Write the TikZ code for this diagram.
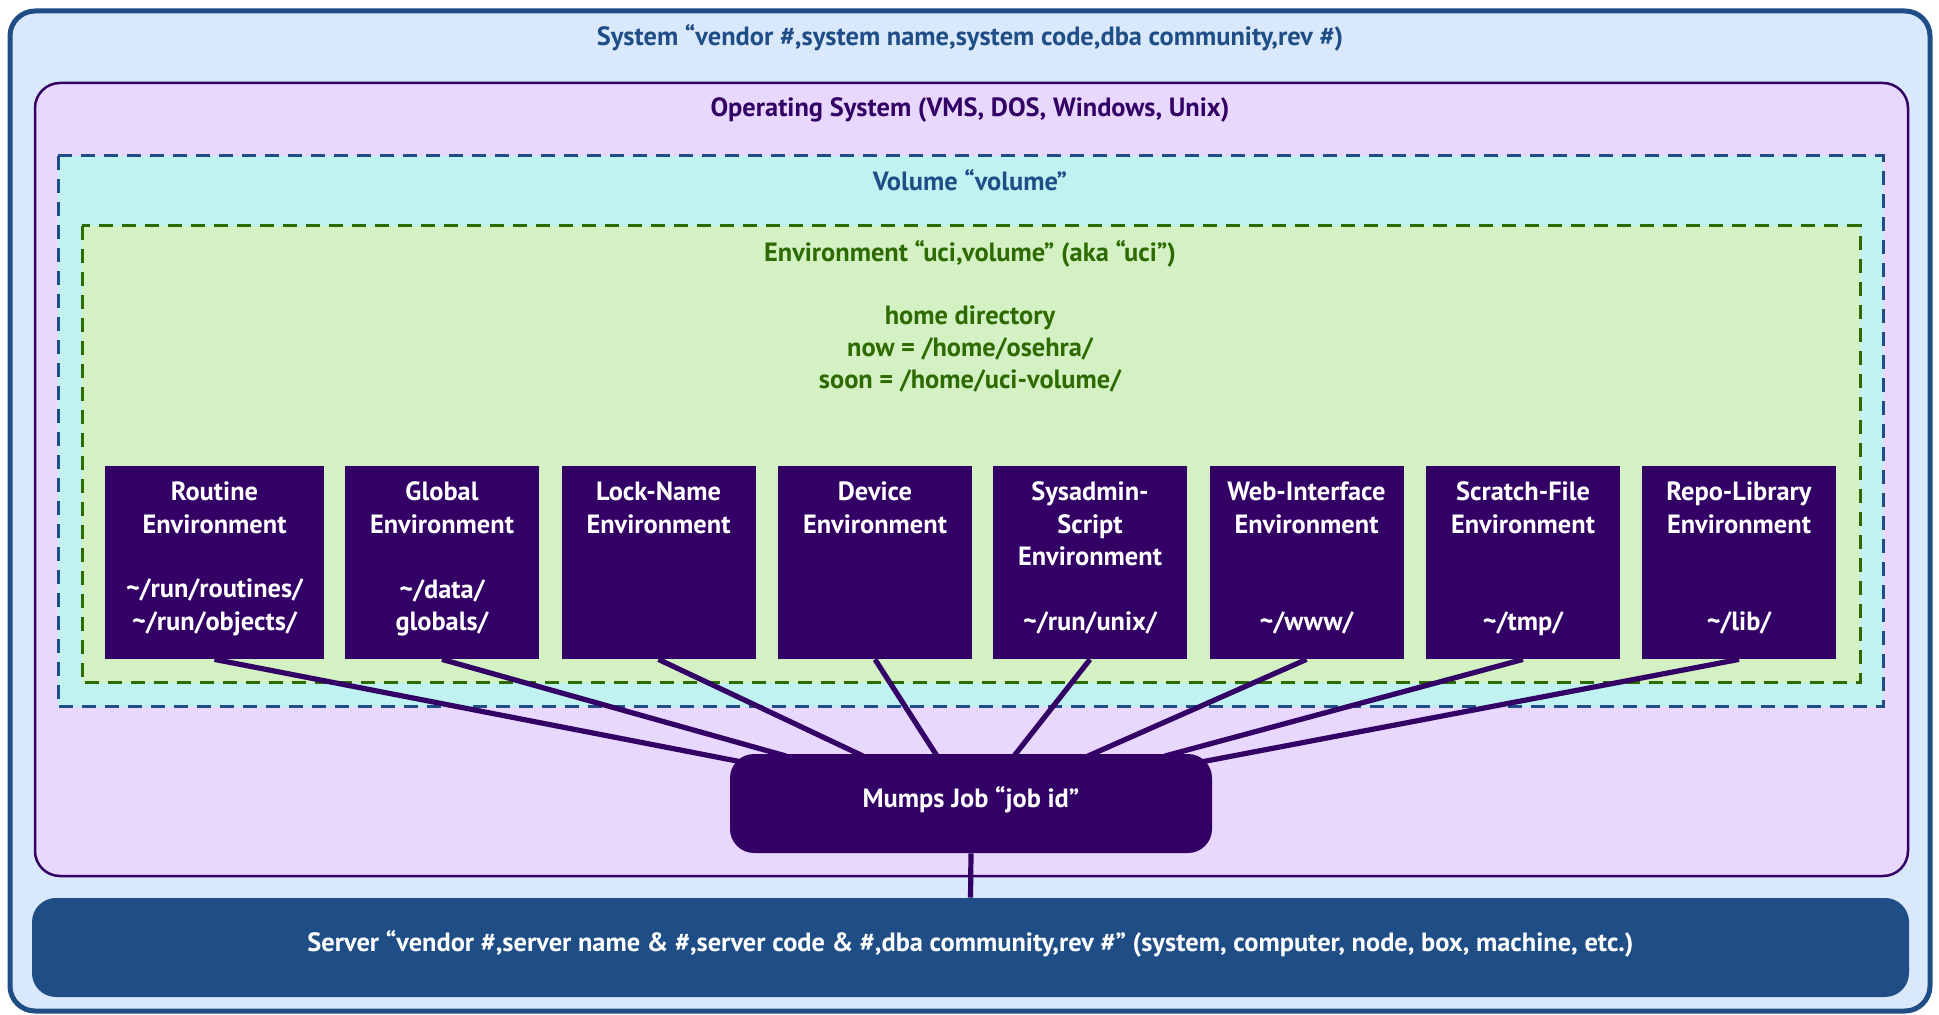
\documentclass[tikz,border=0pt]{standalone}
\usepackage{fontspec}
\setmainfont{PT Sans}
\definecolor{sysfill}{HTML}{DAE8FB}
\definecolor{sysblue}{HTML}{1F4E87}
\definecolor{osfill}{HTML}{E9D8FD}
\definecolor{ospurple}{HTML}{330066}
\definecolor{volfill}{HTML}{C0F2F2}
\definecolor{envfill}{HTML}{D4F1C4}
\definecolor{envgreen}{HTML}{2D6A00}
\newcommand{\envtxt}[1]{\parbox[c][96.5pt][t]{95pt}{\centering\vspace*{8pt}#1}}
\newcommand{\tld}{\textasciitilde}
\newcommand{\upbit}[1]{\raisebox{0pt}[\height][\dimexpr\depth+4pt\relax]{#1}}
\tikzset{
  x=0.5pt, y=-0.5pt,
  txt/.style={font=\fontsize{13.2pt}{16.2pt}\selectfont\bfseries, inner sep=0pt},
  sysbox/.style={draw=sysblue, fill=sysfill, line width=2.5pt, rounded corners=12.5pt},
  osbox/.style={draw=ospurple, fill=osfill, line width=1.25pt, rounded corners=12.5pt},
  volbox/.style={draw=sysblue, fill=volfill, line width=1.5pt, dash pattern=on 7pt off 4.5pt},
  envcont/.style={draw=envgreen, fill=envfill, line width=1.5pt, dash pattern=on 7pt off 4.5pt},
  envbox/.style={txt, fill=ospurple, text=white, inner sep=0pt, minimum width=97pt, minimum height=96.5pt},
  link/.style={draw=ospurple, line width=2.6pt},
  jobbox/.style={txt, fill=ospurple, text=white, rounded corners=12pt, minimum width=241pt, minimum height=49.5pt},
  serverbox/.style={txt, fill=sysblue, text=white, rounded corners=12pt, minimum width=938.5pt, minimum height=49.5pt},
}
\begin{document}
\begin{tikzpicture}
\useasboundingbox (0,0) rectangle (1939,1015);
% containers
\draw[sysbox] (10,11) rectangle (1930,1011);
\node[txt, text=sysblue] (systitle) at (970,37.5) {System “vendor \#,system name,system code,dba community,rev \#)};
\draw[osbox] (35,83) rectangle (1908,876);
\node[txt, text=ospurple] (ostitle) at (970,109.5) {Operating System (VMS, DOS, Windows, Unix)};
\draw[volbox] (58,156) rectangle (1883,707);
\node[txt, text=sysblue] (voltitle) at (970,180) {Volume “volume”};
\draw[envcont] (82,226) rectangle (1860,683);
\node[txt, text=envgreen] (envtitle) at (970,253.5) {Environment “uci,volume” (aka “uci”)};
\node[txt, text=envgreen, align=center] (home) at (970,349) {home directory\\now = /home/osehra/\\soon = /home/uci-volume/};
% environment boxes
\node[envbox, minimum width=109.5pt] (routine) at (214.5,562.5) {\envtxt{Routine\\Environment\\\mbox{}\\\tld/run/routines/\\\tld/run/objects/}};
\node[envbox] (global) at (442,562.5) {\envtxt{Global\\Environment\\\mbox{}\\\tld/data/\\globals/}};
\node[envbox] (lock) at (658.5,562.5) {\envtxt{Lock-Name\\Environment\\\mbox{}\\\mbox{}\\\mbox{}}};
\node[envbox] (device) at (875,562.5) {\envtxt{Device\\Environment\\\mbox{}\\\mbox{}\\\mbox{}}};
\node[envbox] (sysadmin) at (1090,562.5) {\envtxt{Sysadmin-\\Script\\Environment\\\mbox{}\\\tld/run/unix/}};
\node[envbox] (web) at (1306.5,562.5) {\envtxt{Web-Interface\\Environment\\\mbox{}\\\mbox{}\\\tld/www/}};
\node[envbox] (scratch) at (1523,562.5) {\envtxt{Scratch-File\\Environment\\\mbox{}\\\mbox{}\\\tld/tmp/}};
\node[envbox] (repo) at (1739,562.5) {\envtxt{Repo-Library\\Environment\\\mbox{}\\\mbox{}\\\tld/lib/}};
% connector ends on the job box
\coordinate (j1) at (742,762);
\coordinate (j2) at (786,756);
\coordinate (j3) at (863,756);
\coordinate (j4) at (937,756);
\coordinate (j5) at (1014,756);
\coordinate (j6) at (1088,756);
\coordinate (j7) at (1165,756);
\coordinate (j8) at (1201,762);
\draw[link] (routine.south) -- (j1);
\draw[link] (global.south) -- (j2);
\draw[link] (lock.south) -- (j3);
\draw[link] (device.south) -- (j4);
\draw[link] (sysadmin.south) -- (j5);
\draw[link] (web.south) -- (j6);
\draw[link] (scratch.south) -- (j7);
\draw[link] (repo.south) -- (j8);
% job and server
\node[jobbox] (job) at (971,803.5) {\upbit{Mumps Job “job id”}};
\node[serverbox] (server) at (970.5,947.5) {\upbit{Server “vendor \#,server name \& \#,server code \& \#,dba community,rev \#” (system, computer, node, box, machine, etc.)}};
\draw[link] (job.south) -- (server.north);
\end{tikzpicture}
\end{document}
